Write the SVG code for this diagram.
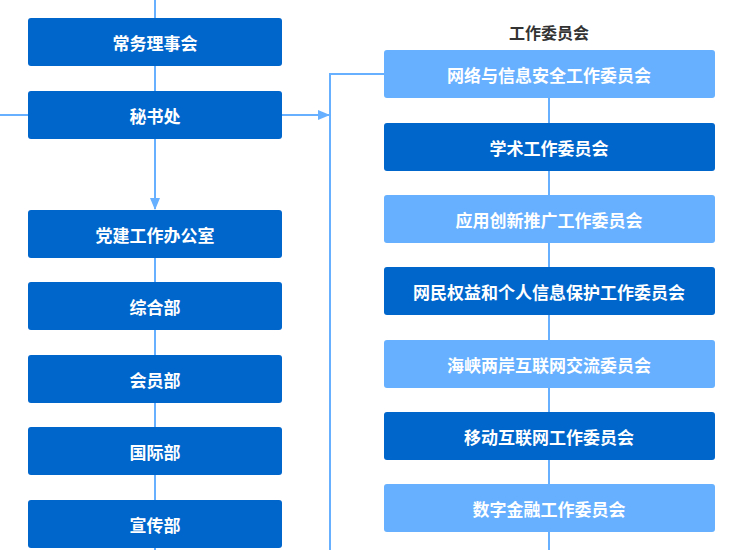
<svg xmlns="http://www.w3.org/2000/svg" width="755" height="550" viewBox="0 0 755 550">
<style>
.d{fill:#0066CC}.l{fill:#66B0FF}
.t{font-family:"Noto Sans CJK SC",sans-serif;font-weight:bold;font-size:17px;fill:#fff;text-anchor:middle;dominant-baseline:central}
.c{stroke:#66B0FF;stroke-width:2;fill:none}
</style>
<defs><marker id="a" markerWidth="12" markerHeight="10" refX="11" refY="5" orient="auto" markerUnits="userSpaceOnUse"><path d="M0,0L12,5L0,10z" fill="#66B0FF"/></marker></defs>
<g id="connectors">
<path class="c" d="M155,0V91"/>
<path class="c" d="M155,139V209" marker-end="url(#a)"/>
<path class="c" d="M155,258V550"/>
<path class="c" d="M0,115H28"/>
<path class="c" d="M282,115H329" marker-end="url(#a)"/>
<path class="c" d="M330,550V74H384"/>
<path class="c" d="M549,98V550"/>
</g>
<text x="549" y="32" font-family="Noto Sans CJK SC,sans-serif" font-weight="bold" font-size="16" fill="#333" text-anchor="middle" dominant-baseline="central">工作委员会</text>
<g id="n1"><rect class="d" x="28" y="18" width="254" height="48" rx="3"/><text class="t" x="155" y="42">常务理事会</text></g>
<g id="n2"><rect class="d" x="28" y="91" width="254" height="48" rx="3"/><text class="t" x="155" y="115">秘书处</text></g>
<g id="n3"><rect class="d" x="28" y="210" width="254" height="48" rx="3"/><text class="t" x="155" y="234">党建工作办公室</text></g>
<g id="n4"><rect class="d" x="28" y="282" width="254" height="48" rx="3"/><text class="t" x="155" y="306">综合部</text></g>
<g id="n5"><rect class="d" x="28" y="355" width="254" height="48" rx="3"/><text class="t" x="155" y="379">会员部</text></g>
<g id="n6"><rect class="d" x="28" y="427" width="254" height="48" rx="3"/><text class="t" x="155" y="451">国际部</text></g>
<g id="n7"><rect class="d" x="28" y="500" width="254" height="48" rx="3"/><text class="t" x="155" y="524">宣传部</text></g>
<g id="r1"><rect class="l" x="384" y="50" width="331" height="48" rx="3"/><text class="t" x="549" y="74">网络与信息安全工作委员会</text></g>
<g id="r2"><rect class="d" x="384" y="123" width="331" height="48" rx="3"/><text class="t" x="549" y="147">学术工作委员会</text></g>
<g id="r3"><rect class="l" x="384" y="195" width="331" height="48" rx="3"/><text class="t" x="549" y="219">应用创新推广工作委员会</text></g>
<g id="r4"><rect class="d" x="384" y="267" width="331" height="48" rx="3"/><text class="t" x="549" y="291">网民权益和个人信息保护工作委员会</text></g>
<g id="r5"><rect class="l" x="384" y="340" width="331" height="48" rx="3"/><text class="t" x="549" y="364">海峡两岸互联网交流委员会</text></g>
<g id="r6"><rect class="d" x="384" y="412" width="331" height="48" rx="3"/><text class="t" x="549" y="436">移动互联网工作委员会</text></g>
<g id="r7"><rect class="l" x="384" y="484" width="331" height="48" rx="3"/><text class="t" x="549" y="508">数字金融工作委员会</text></g>
</svg>
